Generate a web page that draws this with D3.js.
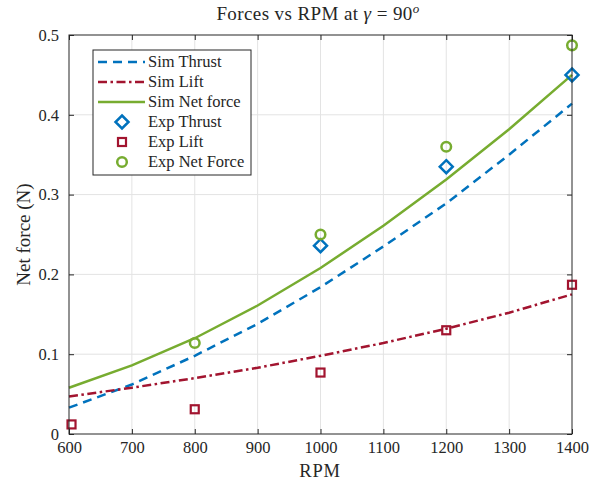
<!DOCTYPE html>
<html>
<head>
<meta charset="utf-8">
<script src="https://cdn.jsdelivr.net/npm/d3@7"></script>
<style>
  body { margin: 0; background: #fff; }
  text { font-family: "Liberation Serif", "DejaVu Serif", serif; fill: #262626; }
</style>
</head>
<body>
<svg></svg>
<script>
const width = 594;
const height = 481;
const margin = { top: 35, right: 22, bottom: 47, left: 69 };

// simulated curves, every 100 RPM
const simRpm = [600, 700, 800, 900, 1000, 1100, 1200, 1300, 1400];
const simThrust = [0.033, 0.062, 0.098, 0.138, 0.184, 0.235, 0.289, 0.350, 0.414];
const simLift = [0.047, 0.058, 0.070, 0.083, 0.098, 0.114, 0.132, 0.152, 0.175];
const simNet = [0.058, 0.086, 0.120, 0.161, 0.208, 0.261, 0.319, 0.382, 0.450];

// experiment points
const expThrustRpm = [1000, 1200, 1400];
const expThrust = [0.236, 0.335, 0.450];
const expLiftRpm = [604, 800, 1000, 1200, 1400];
const expLift = [0.012, 0.031, 0.077, 0.130, 0.187];
const expNetRpm = [800, 1000, 1200, 1400];
const expNet = [0.114, 0.250, 0.360, 0.487];

const xTicks = [600, 700, 800, 900, 1000, 1100, 1200, 1300, 1400];
const yTicks = [0, 0.1, 0.2, 0.3, 0.4, 0.5];

const blue = '#0072BD', red = '#A2142F', green = '#77AC30';

const svg = d3.select('svg')
  .attr('width', width)
  .attr('height', height);

const x = d3.scaleLinear()
  .domain([600, 1400])
  .range([margin.left, width - margin.right]);

const y = d3.scaleLinear()
  .domain([0, 0.5])
  .range([height - margin.bottom, margin.top]);

const x0 = x.range()[0], x1 = x.range()[1];
const y0 = y.range()[0], y1 = y.range()[1];

// grid
svg.append('g')
  .selectAll('line.vx')
  .data(xTicks.slice(1, -1))
  .enter().append('line')
  .attr('x1', d => x(d)).attr('x2', d => x(d))
  .attr('y1', y1).attr('y2', y0)
  .attr('stroke', '#e3e3e3').attr('stroke-width', 1);

svg.append('g')
  .selectAll('line.hy')
  .data(yTicks.slice(1, -1))
  .enter().append('line')
  .attr('x1', x0).attr('x2', x1)
  .attr('y1', d => y(d)).attr('y2', d => y(d))
  .attr('stroke', '#e3e3e3').attr('stroke-width', 1);

// sim lines
const line = vals => d3.line()
  .x((d, i) => x(simRpm[i]))
  .y(d => y(d))(vals);

svg.append('path').attr('d', line(simThrust))
  .attr('fill', 'none').attr('stroke', blue).attr('stroke-width', 2.5)
  .attr('stroke-dasharray', '9,6');
svg.append('path').attr('d', line(simLift))
  .attr('fill', 'none').attr('stroke', red).attr('stroke-width', 2.5)
  .attr('stroke-dasharray', '9,3.5,2.5,3.5');
svg.append('path').attr('d', line(simNet))
  .attr('fill', 'none').attr('stroke', green).attr('stroke-width', 2.5);

// markers
const diamond = (g, cx, cy) => g.append('path')
  .attr('d', `M${cx},${cy - 6.5}L${cx + 6.5},${cy}L${cx},${cy + 6.5}L${cx - 6.5},${cy}Z`)
  .attr('fill', 'none').attr('stroke', blue).attr('stroke-width', 2.5);
const square = (g, cx, cy) => g.append('rect')
  .attr('x', cx - 4).attr('y', cy - 4).attr('width', 8).attr('height', 8)
  .attr('fill', 'none').attr('stroke', red).attr('stroke-width', 2.2);
const circle = (g, cx, cy) => g.append('circle')
  .attr('cx', cx).attr('cy', cy).attr('r', 4.8)
  .attr('fill', 'none').attr('stroke', green).attr('stroke-width', 2.5);

const marks = svg.append('g');
expThrust.forEach((v, i) => diamond(marks, x(expThrustRpm[i]), y(v)));
expLift.forEach((v, i) => square(marks, x(expLiftRpm[i]), y(v)));
expNet.forEach((v, i) => circle(marks, x(expNetRpm[i]), y(v)));

// axes box with inward ticks
const axisColor = '#262626';
svg.append('g')
  .attr('transform', `translate(0,${y0})`)
  .call(d3.axisBottom(x).tickValues(xTicks).tickSize(-5).tickPadding(7).tickFormat(d3.format('d')))
  .call(g => g.select('.domain').remove());
svg.append('g')
  .attr('transform', `translate(0,${y1})`)
  .call(d3.axisTop(x).tickValues(xTicks).tickSize(-5).tickFormat(''))
  .call(g => g.select('.domain').remove());
svg.append('g')
  .attr('transform', `translate(${x0},0)`)
  .call(d3.axisLeft(y).tickValues(yTicks).tickSize(-5).tickPadding(10).tickFormat(d => d === 0 ? '0' : d3.format('.1f')(d)))
  .call(g => g.select('.domain').remove());
svg.append('g')
  .attr('transform', `translate(${x1},0)`)
  .call(d3.axisRight(y).tickValues(yTicks).tickSize(-5).tickFormat(''))
  .call(g => g.select('.domain').remove());

svg.selectAll('.tick line').attr('stroke', axisColor);
svg.selectAll('.tick text')
  .attr('font-family', '"Liberation Serif", serif')
  .attr('font-size', 16.5)
  .attr('fill', axisColor);

svg.append('rect')
  .attr('x', x0).attr('y', y1)
  .attr('width', x1 - x0).attr('height', y0 - y1)
  .attr('fill', 'none').attr('stroke', axisColor).attr('stroke-width', 1);

// labels
const title = svg.append('text')
  .attr('x', 318).attr('y', 20)
  .attr('text-anchor', 'middle').attr('font-size', 19)
  .attr('letter-spacing', 0.4);
title.append('tspan').text('Forces vs RPM at ');
title.append('tspan').attr('font-style', 'italic').text('γ');
title.append('tspan').text(' = 90');
title.append('tspan').attr('font-style', 'italic').attr('font-size', 13).attr('dy', -7).text('o');

svg.append('text')
  .attr('x', 320).attr('y', 477)
  .attr('text-anchor', 'middle').attr('font-size', 18.5)
  .attr('letter-spacing', 0.8)
  .text('RPM');

svg.append('text')
  .attr('transform', `translate(30,${(y0 + y1) / 2}) rotate(-90)`)
  .attr('text-anchor', 'middle').attr('font-size', 19)
  .text('Net force (N)');

// legend
const legend = svg.append('g').attr('transform', 'translate(93,50)');
legend.append('rect')
  .attr('width', 158).attr('height', 125)
  .attr('fill', '#fff').attr('stroke', axisColor).attr('stroke-width', 1);

const legendItems = [
  { label: 'Sim Thrust', type: 'line', color: blue, dash: '9,6' },
  { label: 'Sim Lift', type: 'line', color: red, dash: '9,3.5,2.5,3.5' },
  { label: 'Sim Net force', type: 'line', color: green, dash: null },
  { label: 'Exp Thrust', type: 'diamond' },
  { label: 'Exp Lift', type: 'square' },
  { label: 'Exp Net Force', type: 'circle' }
];

legendItems.forEach((item, i) => {
  const cy = 12 + i * 20;
  if (item.type === 'line') {
    legend.append('line')
      .attr('x1', 5).attr('x2', 52).attr('y1', cy).attr('y2', cy)
      .attr('stroke', item.color).attr('stroke-width', 2.5)
      .attr('stroke-dasharray', item.dash);
  } else if (item.type === 'diamond') {
    diamond(legend, 29, cy);
  } else if (item.type === 'square') {
    square(legend, 29, cy);
  } else {
    circle(legend, 29, cy);
  }
  legend.append('text')
    .attr('x', 55).attr('y', cy + 5)
    .attr('font-size', 16.5)
    .text(item.label);
});
</script>
</body>
</html>
